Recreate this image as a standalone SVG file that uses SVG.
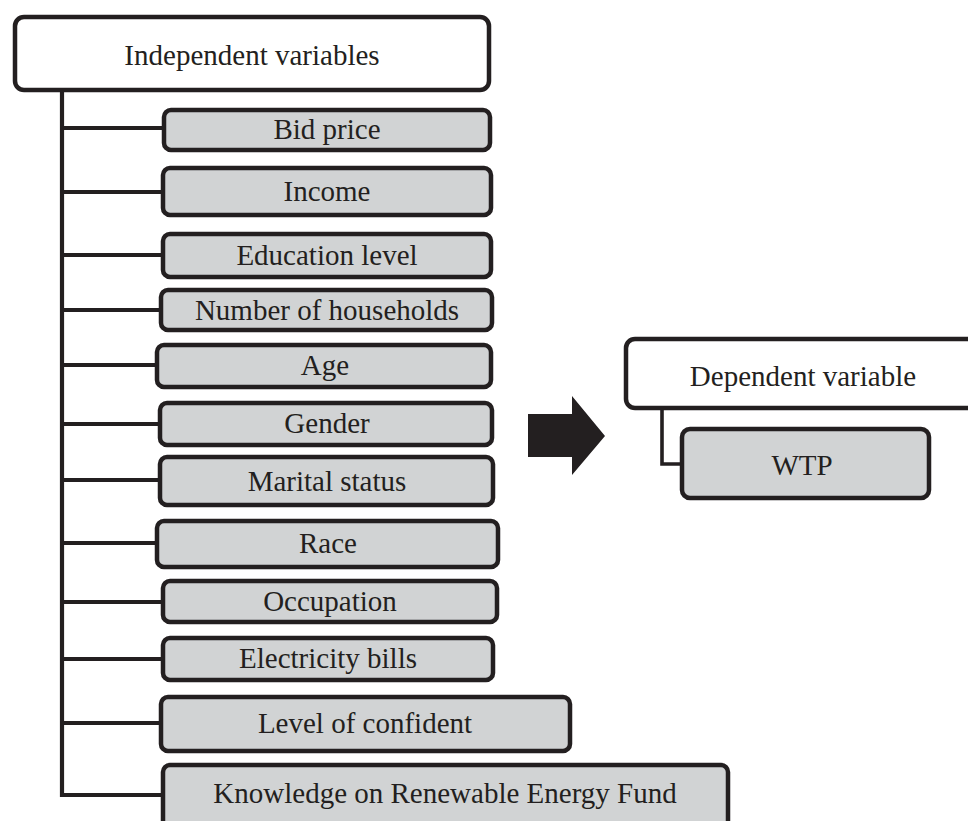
<svg xmlns="http://www.w3.org/2000/svg" width="968" height="821" viewBox="0 0 968 821">
<style>
.hdr{fill:#ffffff;stroke:#231f20;stroke-width:4.5}
.box{fill:#d1d3d4;stroke:#231f20;stroke-width:4.5}
.t{font-family:"Liberation Serif","Times New Roman",serif;font-size:29px;fill:#231f20;text-anchor:middle}
.c{fill:none;stroke:#231f20;stroke-width:4.2}
</style>
<rect width="968" height="821" fill="#ffffff"/>
<g id="connectors">
<path class="c" d="M62,92 V795 H161"/>
<path class="c" d="M62,128 H163"/>
<path class="c" d="M62,192 H162"/>
<path class="c" d="M62,255 H162"/>
<path class="c" d="M62,310 H160"/>
<path class="c" d="M62,365 H156"/>
<path class="c" d="M62,424 H159"/>
<path class="c" d="M62,480 H159"/>
<path class="c" d="M62,543 H156"/>
<path class="c" d="M62,602 H162"/>
<path class="c" d="M62,659 H162"/>
<path class="c" d="M62,723 H160"/>
<path class="c" d="M662,408 V464 H682" style="stroke-width:3.6"/>
<polygon points="528,414 572,414 572,396 605,436 572,475 572,457 528,457" fill="#231f20"/>
</g>
<g id="independent">
<rect class="hdr" x="15" y="17" width="474" height="73" rx="9"/>
<text class="t" x="252" y="65">Independent variables</text>
</g>
<g id="bid-price">
<rect class="box" x="164" y="110" width="326" height="40" rx="7"/>
<text class="t" x="327" y="139">Bid price</text>
</g>
<g id="income">
<rect class="box" x="163" y="168" width="328" height="47" rx="7"/>
<text class="t" x="327" y="201">Income</text>
</g>
<g id="education">
<rect class="box" x="163" y="234" width="328" height="43" rx="7"/>
<text class="t" x="327" y="265">Education level</text>
</g>
<g id="households">
<rect class="box" x="161" y="290" width="331" height="40" rx="7"/>
<text class="t" x="327" y="320">Number of households</text>
</g>
<g id="age">
<rect class="box" x="157" y="345" width="334" height="42" rx="7"/>
<text class="t" x="325" y="375">Age</text>
</g>
<g id="gender">
<rect class="box" x="160" y="403" width="332" height="42" rx="7"/>
<text class="t" x="327" y="433">Gender</text>
</g>
<g id="marital">
<rect class="box" x="160" y="457" width="333" height="48" rx="7"/>
<text class="t" x="327" y="491">Marital status</text>
</g>
<g id="race">
<rect class="box" x="157" y="521" width="341" height="46" rx="7"/>
<text class="t" x="328" y="553">Race</text>
</g>
<g id="occupation">
<rect class="box" x="163" y="581" width="334" height="41" rx="7"/>
<text class="t" x="330" y="611">Occupation</text>
</g>
<g id="electricity">
<rect class="box" x="163" y="638" width="330" height="42" rx="7"/>
<text class="t" x="328" y="668">Electricity bills</text>
</g>
<g id="confident">
<rect class="box" x="161" y="697" width="409" height="54" rx="7"/>
<text class="t" x="365" y="733">Level of confident</text>
</g>
<g id="knowledge">
<rect class="box" x="163" y="765" width="565" height="80" rx="7"/>
<text class="t" x="445" y="803">Knowledge on Renewable Energy Fund</text>
</g>
<g id="dependent">
<rect class="hdr" x="626" y="339" width="360" height="69" rx="9"/>
<text class="t" x="803" y="386">Dependent variable</text>
</g>
<g id="wtp">
<rect class="box" x="682" y="429" width="247" height="69" rx="8"/>
<text class="t" x="802" y="475">WTP</text>
</g>
</svg>
